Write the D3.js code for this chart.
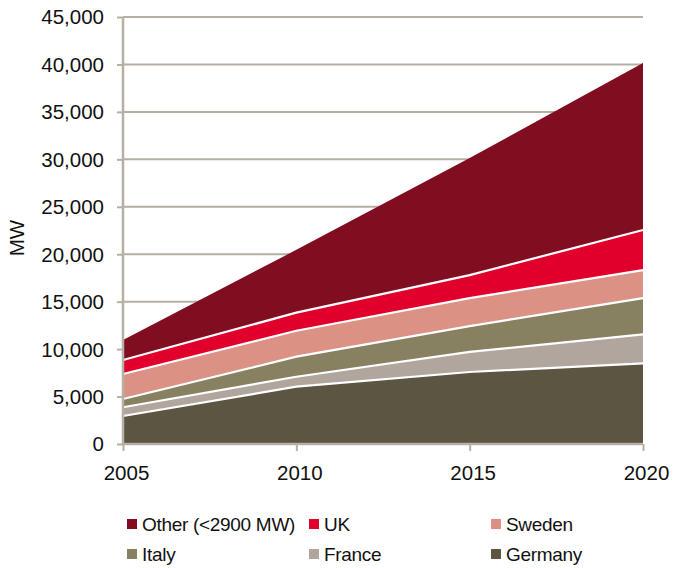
<!DOCTYPE html>
<html>
<head>
<meta charset="utf-8">
<script src="https://cdn.jsdelivr.net/npm/d3@7"></script>
<style>
  body { margin: 0; background: #fff; }
  text { font-family: "Liberation Sans", Arial, Helvetica, sans-serif; fill: #111; }
</style>
</head>
<body>
<svg id="svg1" width="673" height="568"></svg>
<script>
var years = [2005, 2010, 2015, 2020];
var seriesNames = ["Germany", "France", "Italy", "Sweden", "UK", "Other (<2900 MW)"];
var germany = [2950, 6040, 7590, 8500];
var france = [920, 1050, 2110, 3060];
var italy = [870, 2110, 2730, 3820];
var sweden = [2640, 2740, 2950, 2950];
var uk = [1470, 1900, 2420, 4220];
var other = [2110, 6620, 12340, 17600];
var yTicks = [0, 5000, 10000, 15000, 20000, 25000, 30000, 35000, 40000, 45000];

var colors = {
  "Germany": "#5c5542",
  "France": "#b0a69d",
  "Italy": "#878061",
  "Sweden": "#db9284",
  "UK": "#e1002c",
  "Other (<2900 MW)": "#800d20"
};
var gridColor = "#b7aea5";

var svg = d3.select("#svg1");
var margin = {top: 17, left: 123, right: 30, bottom: 124};
var width = +svg.attr("width") - margin.left - margin.right,
    height = +svg.attr("height") - margin.top - margin.bottom;

var seriesValues = [germany, france, italy, sweden, uk, other];
var rows = years.map(function(yr, i) {
  var r = {year: yr};
  seriesNames.forEach(function(n, k) { r[n] = seriesValues[k][i]; });
  return r;
});

var x = d3.scaleLinear().domain([2005, 2020]).range([0, width]);
var y = d3.scaleLinear().domain([0, 45000]).range([height, 0]);

var g = svg.append("g")
    .attr("transform", "translate(" + margin.left + "," + margin.top + ")");

// gridlines
g.selectAll(".grid")
    .data(yTicks.slice(1))
  .enter().append("line")
    .attr("x1", 0).attr("x2", width)
    .attr("y1", function(d) { return y(d); })
    .attr("y2", function(d) { return y(d); })
    .attr("stroke", gridColor)
    .attr("stroke-width", 2);

var stack = d3.stack().keys(seriesNames);
var layers = stack(rows);

var area = d3.area()
    .x(function(d) { return x(d.data.year); })
    .y0(function(d) { return y(d[0]); })
    .y1(function(d) { return y(d[1]); });

var line = d3.line()
    .x(function(d) { return x(d.data.year); })
    .y(function(d) { return y(d[1]); });

g.selectAll(".layer")
    .data(layers)
  .enter().append("path")
    .attr("d", area)
    .attr("fill", function(d) { return colors[d.key]; });

// white separators between layers
g.selectAll(".sep")
    .data(layers.slice(0, layers.length - 1))
  .enter().append("path")
    .attr("d", line)
    .attr("fill", "none")
    .attr("stroke", "#fff")
    .attr("stroke-width", 2.2);

// y axis
var yAxis = d3.axisLeft(y).tickValues(yTicks).tickSize(6).tickPadding(13)
    .tickFormat(d3.format(","));
var ya = g.append("g").call(yAxis);
ya.select(".domain").attr("stroke", gridColor).attr("stroke-width", 2.5)
    .attr("d", "M0," + height + "V0");
ya.selectAll(".tick line").attr("stroke", gridColor).attr("stroke-width", 2);
ya.selectAll(".tick text").style("font-size", "20.5px").attr("fill", "#111")
    .style("font-family", "Liberation Sans, Arial, sans-serif").attr("dy", "0.34em");

// x axis
var xAxis = d3.axisBottom(x).tickValues(years).tickSize(7).tickPadding(14)
    .tickFormat(d3.format("d"));
var xa = g.append("g").attr("transform", "translate(0," + height + ")").call(xAxis);
xa.select(".domain").attr("stroke", gridColor).attr("stroke-width", 2.5)
    .attr("d", "M0,0H" + width);
xa.selectAll(".tick line").attr("stroke", gridColor).attr("stroke-width", 2);
xa.selectAll(".tick text").style("font-size", "20.5px").attr("fill", "#111")
    .attr("x", 3)
    .style("font-family", "Liberation Sans, Arial, sans-serif");

svg.append("text")
    .attr("transform", "translate(24,238) rotate(-90)")
    .attr("text-anchor", "middle")
    .style("font-size", "20.5px")
    .text("MW");

// legend
var legendOrder = ["Other (<2900 MW)", "UK", "Sweden", "Italy", "France", "Germany"];
var colX = [127, 309, 491], rowY = [519, 549];
var leg = svg.selectAll(".leg")
    .data(legendOrder)
  .enter().append("g")
    .attr("transform", function(d, i) {
      return "translate(" + colX[i % 3] + "," + rowY[Math.floor(i / 3)] + ")";
    });
leg.append("rect")
    .attr("width", 10).attr("height", 10)
    .attr("fill", function(d) { return colors[d]; });
leg.append("text")
    .attr("x", 15).attr("y", 12)
    .style("font-size", "19px")
    .style("letter-spacing", "-0.3px")
    .text(function(d) { return d; });
</script>
</body>
</html>
